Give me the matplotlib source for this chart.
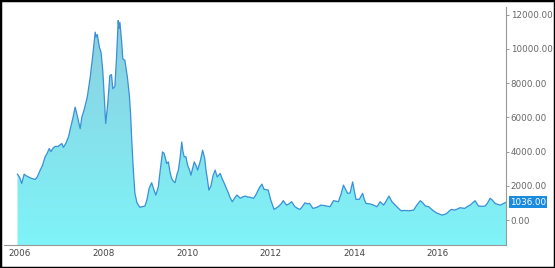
import matplotlib.pyplot as plt
import numpy as np
from matplotlib.colors import LinearSegmentedColormap
from matplotlib.patches import Rectangle

# Index readings (decimal year, value)
years = [
    2005.94, 2005.99, 2006.04, 2006.10, 2006.14, 2006.20, 2006.26, 2006.36, 2006.41, 2006.48,
    2006.54, 2006.60, 2006.65, 2006.70, 2006.74, 2006.79, 2006.84, 2006.91, 2006.96, 2007.00,
    2007.04, 2007.10, 2007.16, 2007.22, 2007.27, 2007.32, 2007.36, 2007.44, 2007.48, 2007.53,
    2007.61, 2007.68, 2007.74, 2007.80, 2007.82, 2007.85, 2007.90, 2007.94, 2007.98, 2008.01,
    2008.05, 2008.10, 2008.15, 2008.19, 2008.22, 2008.27, 2008.31, 2008.35, 2008.37, 2008.39,
    2008.43, 2008.46, 2008.51, 2008.57, 2008.62, 2008.65, 2008.67, 2008.71, 2008.75, 2008.80,
    2008.87, 2008.92, 2008.99, 2009.04, 2009.09, 2009.15, 2009.20, 2009.25, 2009.31, 2009.35,
    2009.41, 2009.45, 2009.51, 2009.55, 2009.59, 2009.63, 2009.66, 2009.71, 2009.76, 2009.79,
    2009.83, 2009.87, 2009.90, 2009.93, 2009.97, 2010.01, 2010.06, 2010.09, 2010.14, 2010.17,
    2010.21, 2010.25, 2010.31, 2010.37, 2010.42, 2010.45, 2010.49, 2010.52, 2010.57, 2010.62,
    2010.67, 2010.72, 2010.79, 2010.84, 2010.89, 2010.93, 2010.99, 2011.03, 2011.08, 2011.14,
    2011.19, 2011.22, 2011.27, 2011.33, 2011.39, 2011.45, 2011.51, 2011.59, 2011.64, 2011.68,
    2011.73, 2011.79, 2011.84, 2011.89, 2011.94, 2012.00, 2012.08, 2012.13, 2012.18, 2012.25,
    2012.30, 2012.38, 2012.44, 2012.50, 2012.58, 2012.64, 2012.70, 2012.76, 2012.82, 2012.87,
    2012.93, 2013.01, 2013.10, 2013.20, 2013.27, 2013.34, 2013.42, 2013.50, 2013.57, 2013.62,
    2013.68, 2013.74, 2013.79, 2013.84, 2013.90, 2013.96, 2014.00, 2014.04, 2014.12, 2014.20,
    2014.24, 2014.28, 2014.36, 2014.42, 2014.48, 2014.54, 2014.62, 2014.70, 2014.76, 2014.83,
    2014.90, 2014.98, 2015.05, 2015.12, 2015.22, 2015.30, 2015.42, 2015.49, 2015.58, 2015.64,
    2015.70, 2015.78, 2015.84, 2015.89, 2015.98, 2016.10, 2016.19, 2016.26, 2016.32, 2016.41,
    2016.53, 2016.64, 2016.70, 2016.77, 2016.83, 2016.89, 2016.97, 2017.06, 2017.13, 2017.19,
    2017.25, 2017.31, 2017.37, 2017.49, 2017.56, 2017.63,
]
values = [
    2680, 2500, 2140, 2680, 2600, 2520, 2450, 2370, 2500, 2900,
    3200, 3690, 3900, 4180, 4000, 4200, 4300, 4300, 4400, 4470,
    4250, 4500, 4860, 5500, 6000, 6600, 6200, 5340, 6020, 6400,
    7190, 8350, 9600, 10980, 10700, 10840, 10100, 9800, 8750, 7500,
    5640, 6800, 8450, 8500, 7680, 7800, 9500, 11660, 11200, 11560,
    10500, 9430, 9330, 8350, 7190, 6000, 4860, 3000, 1560, 1000,
    740, 780, 820, 1200, 1850, 2180, 1800, 1460, 1940, 2800,
    3980, 3890, 3300, 3400, 2800, 2430, 2300, 2180, 2700, 2920,
    3600, 4560, 4000, 3690, 3700, 3210, 2900, 2620, 3100, 3400,
    3200, 2920, 3400, 4080, 3600, 2920, 2300, 1750, 2000, 2600,
    2920, 2520, 2720, 2400, 2140, 1900, 1560, 1300, 1070, 1300,
    1460, 1400, 1270, 1350, 1400, 1350, 1330, 1270, 1450, 1650,
    1900, 2100, 1790, 1780, 1750, 1170, 620, 700, 780, 950,
    1130, 870, 950, 1070, 780, 680, 620, 800, 1010, 950,
    970, 680, 740, 870, 850, 820, 780, 1130, 1100, 1070,
    1500, 2040, 1800, 1560, 1580, 2230, 1700, 1210, 1210, 1560,
    1200, 970, 950, 910, 850, 780, 1070, 870, 1100, 1400,
    1070, 870, 700, 540, 560, 540, 580, 850, 1130, 1000,
    820, 780, 650, 540, 400, 290, 350, 500, 620, 580,
    720, 680, 780, 870, 1000, 1130, 820, 800, 820, 1000,
    1270, 1150, 970, 870, 950, 1036,
]
last_value = 1036

x_ticks = [2006, 2008, 2010, 2012, 2014, 2016]
y_ticks = [0, 2000, 4000, 6000, 8000, 10000, 12000]

fig = plt.figure(figsize=(5.55, 2.68), dpi=100)
ax = fig.add_axes([0.0072, 0.0858, 0.9045, 0.888])

x_min, x_max = 2005.617, 2017.63
y_min, y_max = -1460, 12450
ax.set_xlim(x_min, x_max)
ax.set_ylim(y_min, y_max)

# gradient fill under the line
fill = ax.fill_between(years, values, y_min, color='none', lw=0)
cmap = LinearSegmentedColormap.from_list('bdi', ['#7ff4f8', '#8ccddf'])
grad = np.linspace(0, 1, 256).reshape(-1, 1)
img = ax.imshow(grad, cmap=cmap, origin='lower', aspect='auto',
                extent=[x_min, x_max, y_min, 12000], zorder=1)
path = fill.get_paths()[0]
img.set_clip_path(path, transform=ax.transData)

ax.plot(years, values, color='#3a8fd6', lw=0.9, zorder=2)

# axes styling
for s in ['top', 'left']:
    ax.spines[s].set_visible(False)
ax.spines['right'].set_color('#999999')
ax.spines['bottom'].set_color('#999999')
ax.spines['right'].set_linewidth(0.8)
ax.spines['bottom'].set_linewidth(0.8)

ax.yaxis.tick_right()
ax.set_yticks(y_ticks)
ax.set_yticklabels(['%.2f' % v for v in y_ticks])
ax.tick_params(axis='y', length=2.5, width=0.7, color='#999999', pad=1,
               labelsize=6.3, labelcolor='#666666')
ax.set_xticks(x_ticks)
ax.set_xticklabels([str(v) for v in x_ticks])
ax.tick_params(axis='x', length=0, pad=3, labelsize=6.3, labelcolor='#444444')

# last value marker box
ax.text(1.008, last_value, '%.2f' % last_value, transform=ax.get_yaxis_transform(),
        ha='left', va='center', fontsize=6.3, color='white',
        bbox=dict(boxstyle='square,pad=0.15', fc='#1b8be0', ec='none'))

# black frame around the image
fig.patches.append(Rectangle((0, 0), 1, 1, transform=fig.transFigure, fill=False,
                             ec='black', lw=2.5))

fig.savefig('out.png', dpi=100)
